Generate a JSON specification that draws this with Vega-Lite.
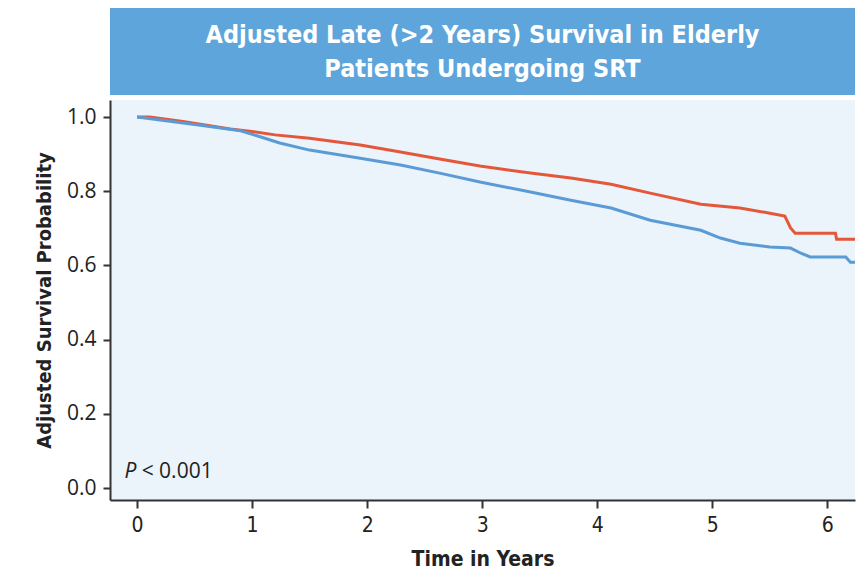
{
  "$schema": "https://vega.github.io/schema/vega-lite/v6.json",
  "background": "white",
  "padding": {"left": 34, "top": 8, "right": 7, "bottom": 5},
  "spacing": 5,
  "config": {"view": {"stroke": null}},
  "datasets": {
    "curves": [
      {"t": 0.0, "s": 1.0, "g": "red"},
      {"t": 0.11, "s": 1.0, "g": "red"},
      {"t": 0.4, "s": 0.988, "g": "red"},
      {"t": 0.81, "s": 0.968, "g": "red"},
      {"t": 0.98, "s": 0.962, "g": "red"},
      {"t": 1.2, "s": 0.952, "g": "red"},
      {"t": 1.5, "s": 0.943, "g": "red"},
      {"t": 1.94, "s": 0.925, "g": "red"},
      {"t": 2.29, "s": 0.906, "g": "red"},
      {"t": 2.63, "s": 0.887, "g": "red"},
      {"t": 2.98, "s": 0.868, "g": "red"},
      {"t": 3.42, "s": 0.849, "g": "red"},
      {"t": 3.77, "s": 0.836, "g": "red"},
      {"t": 4.12, "s": 0.819, "g": "red"},
      {"t": 4.46, "s": 0.795, "g": "red"},
      {"t": 4.9, "s": 0.765, "g": "red"},
      {"t": 5.24, "s": 0.755, "g": "red"},
      {"t": 5.5, "s": 0.741, "g": "red"},
      {"t": 5.63, "s": 0.733, "g": "red"},
      {"t": 5.68, "s": 0.701, "g": "red"},
      {"t": 5.72, "s": 0.687, "g": "red"},
      {"t": 6.07, "s": 0.687, "g": "red"},
      {"t": 6.08, "s": 0.671, "g": "red"},
      {"t": 6.24, "s": 0.671, "g": "red"},
      {"t": 0.0, "s": 1.0, "g": "blue"},
      {"t": 0.55, "s": 0.978, "g": "blue"},
      {"t": 0.9, "s": 0.963, "g": "blue"},
      {"t": 1.07, "s": 0.947, "g": "blue"},
      {"t": 1.24, "s": 0.93, "g": "blue"},
      {"t": 1.5, "s": 0.911, "g": "blue"},
      {"t": 1.94, "s": 0.889, "g": "blue"},
      {"t": 2.29, "s": 0.871, "g": "blue"},
      {"t": 2.63, "s": 0.849, "g": "blue"},
      {"t": 2.98, "s": 0.825, "g": "blue"},
      {"t": 3.42, "s": 0.798, "g": "blue"},
      {"t": 3.77, "s": 0.776, "g": "blue"},
      {"t": 4.12, "s": 0.755, "g": "blue"},
      {"t": 4.46, "s": 0.722, "g": "blue"},
      {"t": 4.9, "s": 0.695, "g": "blue"},
      {"t": 5.07, "s": 0.674, "g": "blue"},
      {"t": 5.24, "s": 0.66, "g": "blue"},
      {"t": 5.5, "s": 0.65, "g": "blue"},
      {"t": 5.68, "s": 0.647, "g": "blue"},
      {"t": 5.77, "s": 0.633, "g": "blue"},
      {"t": 5.85, "s": 0.623, "g": "blue"},
      {"t": 6.16, "s": 0.623, "g": "blue"},
      {"t": 6.2, "s": 0.609, "g": "blue"},
      {"t": 6.24, "s": 0.609, "g": "blue"}
    ]
  },
  "vconcat": [
    {
      "width": 745,
      "height": 87,
      "view": {"fill": "#5DA5DB", "stroke": null},
      "data": {"values": [{"txt": "Adjusted Late (>2 Years) Survival in Elderly\nPatients Undergoing SRT"}]},
      "mark": {"type": "text", "lineBreak": "\n", "font": "DejaVu Sans Condensed, sans-serif", "fontWeight": "bold", "fontSize": 25, "color": "white", "align": "center", "baseline": "middle", "lineHeight": 34, "dy": -17},
      "encoding": {"text": {"field": "txt"}}
    },
    {
      "width": 745,
      "height": 400,
      "view": {"fill": "#EBF3FB", "stroke": null},
      "layer": [
        {
          "data": {"name": "curves"},
          "mark": {"type": "line", "strokeWidth": 3, "interpolate": "linear"},
          "encoding": {
            "x": {
              "field": "t", "type": "quantitative",
              "scale": {"domain": [-0.235, 6.24], "nice": false, "zero": false},
              "axis": {
                "values": [0, 1, 2, 3, 4, 5, 6], "format": "d",
                "title": "Time in Years", "grid": false,
                "domainColor": "#333333", "domainWidth": 2,
                "tickColor": "#333333", "tickWidth": 2, "tickSize": 8,
                "labelFont": "DejaVu Sans Condensed, sans-serif",
                "labelFontSize": 21, "labelColor": "#222222", "labelPadding": 6,
                "titleFont": "DejaVu Sans Condensed, sans-serif",
                "titleFontSize": 21, "titleFontWeight": "bold", "titleColor": "#222222", "titlePadding": 13
              }
            },
            "y": {
              "field": "s", "type": "quantitative",
              "scale": {"domain": [-0.032, 1.046], "nice": false, "zero": false},
              "axis": {
                "values": [0, 0.2, 0.4, 0.6, 0.8, 1.0], "format": ".1f",
                "title": "Adjusted Survival Probability", "grid": false,
                "domainColor": "#333333", "domainWidth": 2,
                "tickColor": "#333333", "tickWidth": 2, "tickSize": 7,
                "labelFont": "Open Sans, sans-serif",
                "labelFontSize": 21, "labelColor": "#222222", "labelPadding": 7,
                "titleFont": "DejaVu Sans Condensed, sans-serif",
                "titleFontSize": 20, "titleFontWeight": "bold", "titleColor": "#222222", "titlePadding": 12
              }
            },
            "color": {
              "field": "g", "type": "nominal",
              "scale": {"domain": ["red", "blue"], "range": ["#E4573A", "#5B9BD5"]},
              "legend": null
            },
            "detail": {"field": "g"}
          }
        },
        {
          "data": {"values": [{"t": -0.11, "s": 0.043, "txt": "P"}]},
          "mark": {"type": "text", "font": "Open Sans, sans-serif", "fontStyle": "italic", "fontSize": 21, "color": "#222222", "align": "left", "baseline": "middle"},
          "encoding": {
            "x": {"field": "t", "type": "quantitative"},
            "y": {"field": "s", "type": "quantitative"},
            "text": {"field": "txt"}
          }
        },
        {
          "data": {"values": [{"t": 0.04, "s": 0.043, "txt": "< 0.001"}]},
          "mark": {"type": "text", "font": "Open Sans, sans-serif", "fontSize": 21, "color": "#222222", "align": "left", "baseline": "middle"},
          "encoding": {
            "x": {"field": "t", "type": "quantitative"},
            "y": {"field": "s", "type": "quantitative"},
            "text": {"field": "txt"}
          }
        }
      ]
    }
  ]
}
